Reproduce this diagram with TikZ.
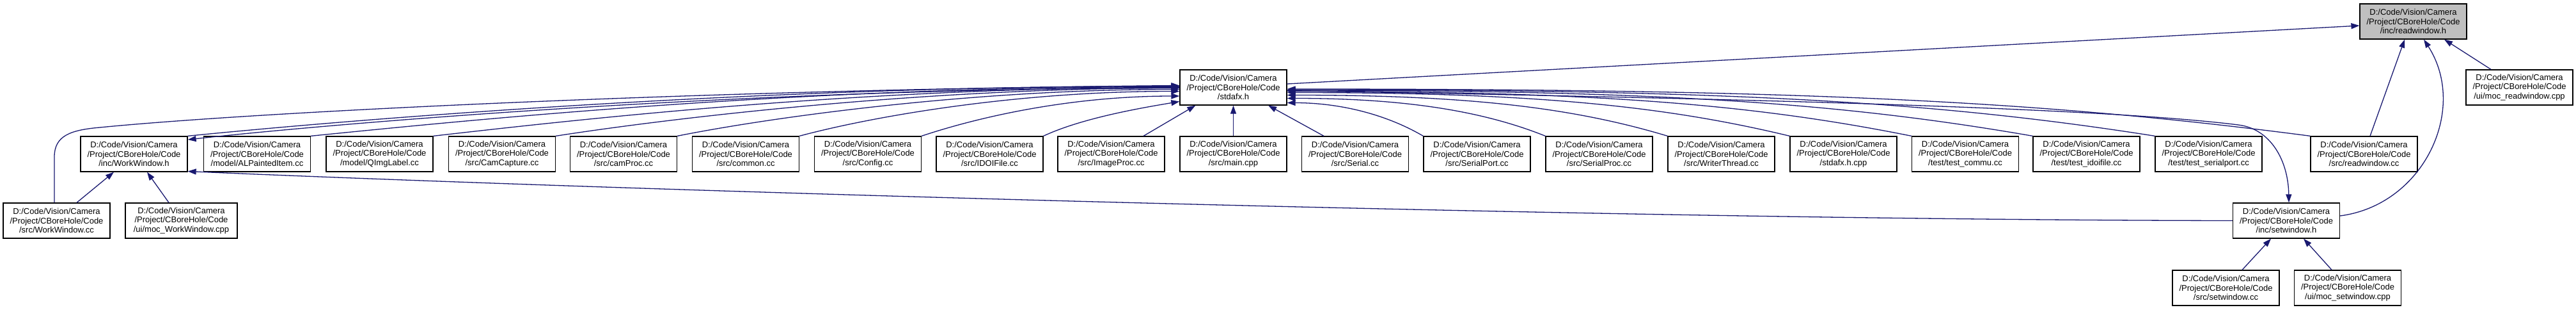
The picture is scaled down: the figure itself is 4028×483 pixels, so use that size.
\documentclass[tikz,border=0pt]{standalone}
\usepackage{fontspec}
\setmainfont{Liberation Sans}
\usetikzlibrary{arrows.meta}
\definecolor{edgeblue}{HTML}{191970}
\definecolor{rootgray}{HTML}{BFBFBF}
\newcommand{\cbhpath}[1]{D:/Code/Vision/Camera\\/Project/CBoreHole/Code\\#1}

\begin{document}
\begin{tikzpicture}[x=1pt, y=-1pt, >={Triangle[length=13pt,width=9pt]},
  file/.style={draw=black, fill=white, line width=1.3pt, minimum width=167pt,
    minimum height=55pt, inner sep=0pt, align=center,
    font=\fontsize{13}{14.5}\selectfont},
  root/.style={file, fill=rootgray},
  incl/.style={->, draw=edgeblue, line width=1.3pt}]
  \useasboundingbox (0,0) rectangle (4028,483);

  % top rows
  \node[root] (readwin) at (3773.5,33.5) {\cbhpath{/inc/readwindow.h}};
  \node[file] (stdafx) at (1928.5,136.5) {\cbhpath{/stdafx.h}};
  \node[file] (mocrw) at (3939.5,136.5) {\cbhpath{/ui/moc\_readwindow.cpp}};

  % files that include stdafx.h
  \node[file] (workh) at (209.5,240.5) {\cbhpath{/inc/WorkWindow.h}};
  \node[file] (alpi) at (402,240.5) {\cbhpath{/model/ALPaintedItem.cc}};
  \node[file] (qimg) at (593.5,240.5) {\cbhpath{/model/QImgLabel.cc}};
  \node[file] (camcap) at (785,240.5) {\cbhpath{/src/CamCapture.cc}};
  \node[file] (camproc) at (975,240.5) {\cbhpath{/src/camProc.cc}};
  \node[file] (common) at (1166,240.5) {\cbhpath{/src/common.cc}};
  \node[file] (config) at (1357,240.5) {\cbhpath{/src/Config.cc}};
  \node[file] (idoi) at (1547.5,240.5) {\cbhpath{/src/IDOIFile.cc}};
  \node[file] (imgproc) at (1737.5,240.5) {\cbhpath{/src/ImageProc.cc}};
  \node[file] (main) at (1928.5,240.5) {\cbhpath{/src/main.cpp}};
  \node[file] (serial) at (2119,240.5) {\cbhpath{/src/Serial.cc}};
  \node[file] (serport) at (2309.5,240.5) {\cbhpath{/src/SerialPort.cc}};
  \node[file] (serproc) at (2500.5,240.5) {\cbhpath{/src/SerialProc.cc}};
  \node[file] (writer) at (2691.5,240.5) {\cbhpath{/src/WriterThread.cc}};
  \node[file] (stdcpp) at (2882.5,240.5) {\cbhpath{/stdafx.h.cpp}};
  \node[file] (tcommu) at (3073,240.5) {\cbhpath{/test/test\_commu.cc}};
  \node[file] (tidoi) at (3262.5,240.5) {\cbhpath{/test/test\_idoifile.cc}};
  \node[file] (tserial) at (3453.5,240.5) {\cbhpath{/test/test\_serialport.cc}};
  \node[file] (readcc) at (3696.5,240.5) {\cbhpath{/src/readwindow.cc}};

  % lower rows
  \node[file] (workcc) at (88.5,344.5) {\cbhpath{/src/WorkWindow.cc}};
  \node[file, minimum width=175pt] (mocww) at (283.5,344.5) {\cbhpath{/ui/moc\_WorkWindow.cpp}};
  \node[file] (setwin) at (3575,344.5) {\cbhpath{/inc/setwindow.h}};
  \node[file] (setcc) at (3480.5,449.5) {\cbhpath{/src/setwindow.cc}};
  \node[file] (mocsw) at (3671,449.5) {\cbhpath{/ui/moc\_setwindow.cpp}};

  % into readwindow.h
  \draw[incl] ([yshift=5.5pt]stdafx.east) -- ([yshift=-6.5pt]readwin.west);
  \draw[incl] ([xshift=-44.5pt]mocrw.north) -- ([xshift=48.5pt]readwin.south);
  \draw[incl] ([xshift=9.5pt]readcc.north) -- ([xshift=-13.5pt]readwin.south);
  \draw[incl] ([yshift=7.5pt]setwin.east) .. controls (3790,320) and (3860,170)
    .. ([xshift=16.5pt]readwin.south);

  % stdafx.h pulls in the window headers
  \draw[incl] ([yshift=-5pt]stdafx.east) .. controls (2800,155) and (3300,170)
    .. (3500,195) .. controls (3550,201) and (3578,250) .. ([xshift=4pt]setwin.north);
  \draw[incl] ([yshift=-1pt]stdafx.west) .. controls +(-700,0) and +(200,-22)
    .. ([yshift=22.5pt]workh.east);
  \draw[incl] (setwin.west) .. controls (2500,343) and (1000,298)
    .. ([yshift=-27pt]workh.east);

  % into stdafx.h from the left
  \draw[incl] (workh.north east) .. controls +(200,-20) and +(-700,0) .. ([yshift=2pt]stdafx.west);
  \draw[incl] ([xshift=-3.5pt]workcc.north) -- (85,245) .. controls (85,212) and (110,203)
    .. (156,199) .. controls (400,175) and (1100,140) .. ([yshift=3pt]stdafx.west);
  \draw[incl] (alpi.north east) .. controls +(250,-25) and +(-600,0) .. ([yshift=1pt]stdafx.west);
  \draw[incl] (qimg.north east) .. controls +(220,-25) and +(-500,0) .. (stdafx.west);
  \draw[incl] (camcap.north east) .. controls +(180,-28) and +(-400,0) .. ([yshift=-1pt]stdafx.west);
  \draw[incl] (camproc.north east) .. controls +(150,-30) and +(-320,0) .. ([yshift=-3pt]stdafx.west);
  \draw[incl] (common.north east) .. controls +(120,-32) and +(-250,0) .. ([yshift=-6pt]stdafx.west);
  \draw[incl] (config.north east) .. controls +(90,-30) and +(-170,0) .. ([yshift=-13.5pt]stdafx.west);
  \draw[incl] (idoi.north east) .. controls +(60,-28) and +(-60,10) .. ([yshift=-22pt]stdafx.west);
  \draw[incl] ([xshift=50.5pt]imgproc.north) -- ([xshift=25pt]stdafx.south west);
  \draw[incl] (main.north) -- (stdafx.south);
  \draw[incl] ([xshift=-49pt]serial.north) -- ([xshift=-29.5pt]stdafx.south east);

  % into stdafx.h from the right
  \draw[incl] (serport.north west) .. controls +(-60,-35) and +(80,0) .. ([yshift=-24pt]stdafx.east);
  \draw[incl] (serproc.north west) .. controls +(-100,-40) and +(180,0) .. ([yshift=-17pt]stdafx.east);
  \draw[incl] (writer.north west) .. controls +(-150,-45) and +(280,0) .. ([yshift=-12pt]stdafx.east);
  \draw[incl] (stdcpp.north west) .. controls +(-200,-48) and +(380,0) .. ([yshift=-8pt]stdafx.east);
  \draw[incl] (tcommu.north west) .. controls +(-250,-50) and +(480,0) .. ([yshift=-6pt]stdafx.east);
  \draw[incl] (tidoi.north west) .. controls +(-300,-52) and +(580,0) .. ([yshift=-4.5pt]stdafx.east);
  \draw[incl] (tserial.north west) .. controls +(-350,-55) and +(680,0) .. ([yshift=-3.5pt]stdafx.east);
  \draw[incl] (readcc.north west) .. controls +(-420,-55) and +(800,0) .. ([yshift=-2.5pt]stdafx.east);

  % moc and sources of the headers
  \draw[incl] ([xshift=31.5pt]workcc.north) -- ([xshift=-31.5pt]workh.south);
  \draw[incl] ([xshift=-19.5pt]mocww.north) -- ([xshift=20.5pt]workh.south);
  \draw[incl] ([xshift=25.5pt]setcc.north) -- ([xshift=-24pt]setwin.south);
  \draw[incl] ([xshift=-25pt]mocsw.north) -- ([xshift=27pt]setwin.south);
\end{tikzpicture}
\end{document}
